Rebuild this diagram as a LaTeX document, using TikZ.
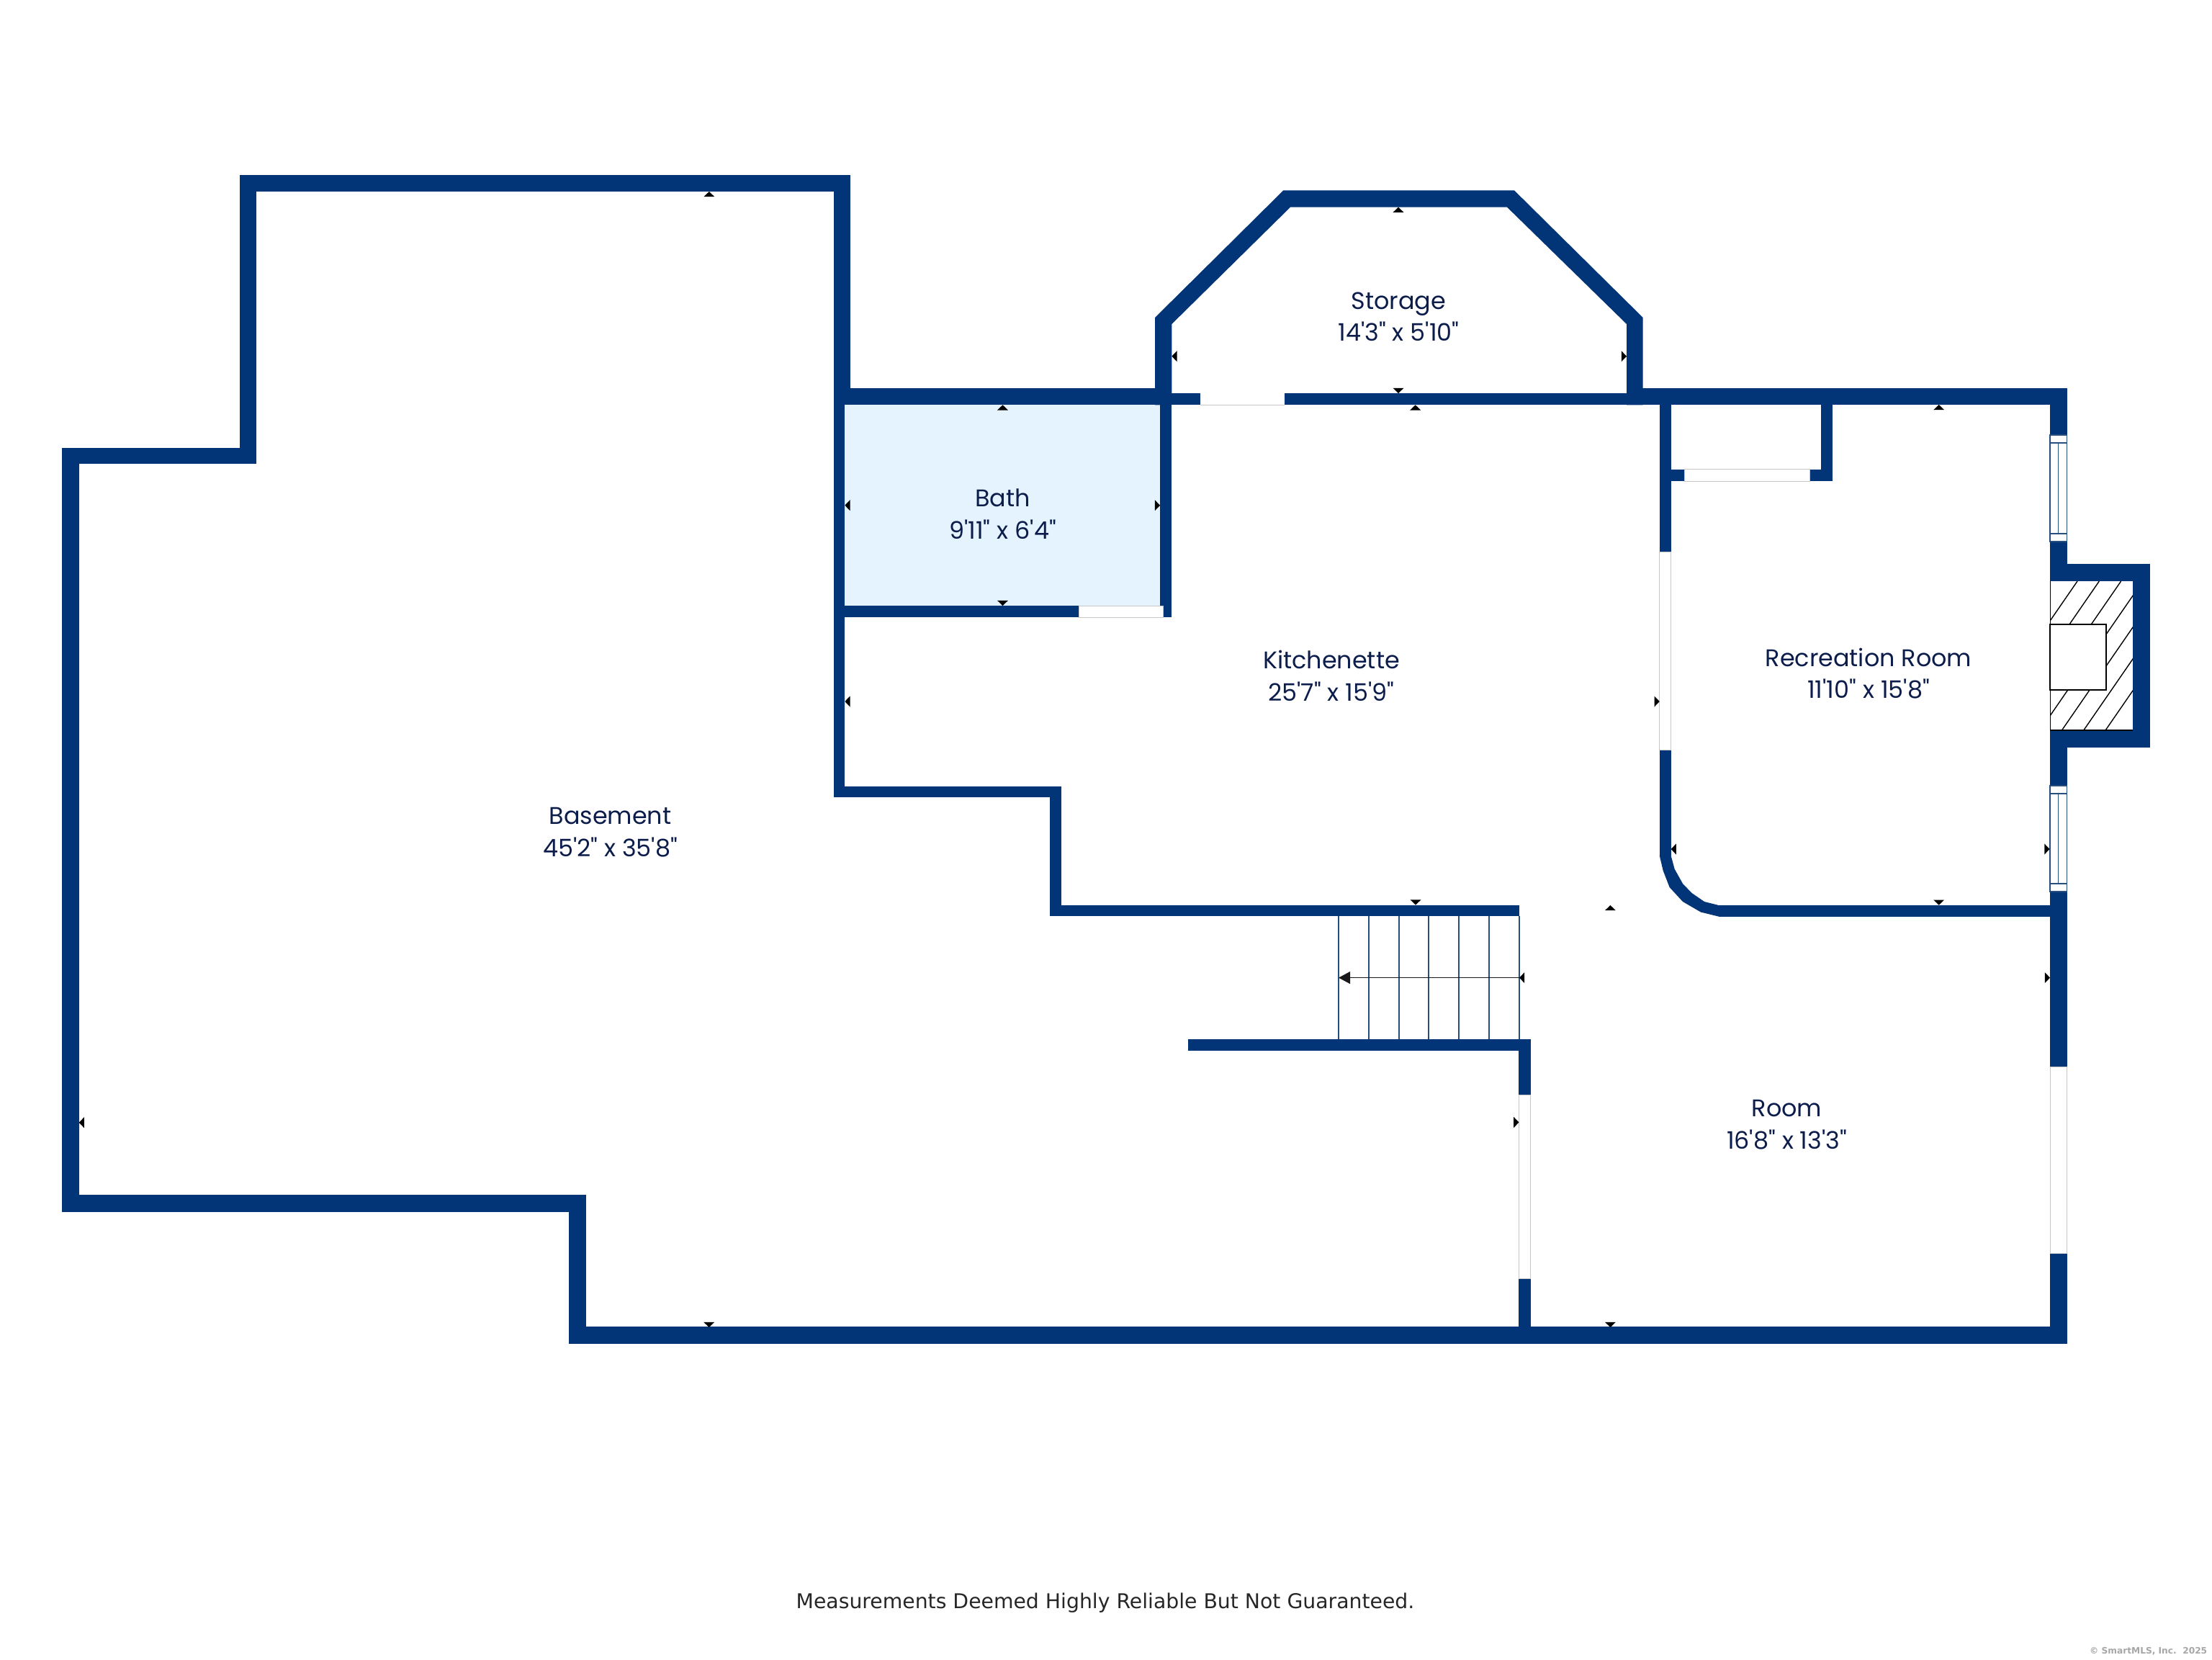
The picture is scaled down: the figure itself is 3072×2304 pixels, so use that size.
\documentclass[tikz,border=0pt]{standalone}
\usepackage{fontspec}
\usetikzlibrary{arrows.meta}
\newfontfamily\roomfont{Poppins}
\newfontfamily\notefont{DejaVu Sans}
\definecolor{wallblue}{HTML}{023577}
\definecolor{bathblue}{HTML}{E4F3FD}
\definecolor{labelnavy}{HTML}{0C1D4C}
\definecolor{stairblue}{HTML}{264F7E}
\tikzset{
    wall/.style={fill=wallblue},
    opening/.style={draw=black!22, line width=0.25pt, fill=white},
    casement/.style={draw=stairblue, line width=0.3pt, fill=white},
    tread/.style={draw=stairblue, line width=0.35pt},
    roomlabel/.style={font=\roomfont\fontsize{8.35}{11.1}\selectfont, text=labelnavy, align=center, inner sep=0},
}

\begin{document}
\begin{tikzpicture}[x=0.25pt, y=-0.25pt]
    \useasboundingbox (0,0) rectangle (3072,2304);

    \fill[bathblue] (1173.3,562) rectangle (1611,841);

    \foreach \xa/\ya/\xb/\yb in {
        333/242.7/1181/266, 333/242.7/356/644.3, 86/621.7/356/644.3, 86/621.7/109.7/1682.7,
        86/1659/813.8/1682.7, 790.2/1659/813.8/1866, 790.2/1842.3/2870.6/1866,
        1157.7/242.7/1181/562.3, 1157.5/562/1173.3/1107.3, 1157.5/1091.7/1474.3/1107.3,
        1458.3/1091.7/1474.3/1272.3, 1458.3/1256.5/2110/1272.3,
        1649.6/1443/2125.5/1459, 2109.4/1443/2125.5/1520.4, 2109.4/1775/2125.5/1866,
        1157.7/539/1627.3/562.3, 1611/562/1627.3/857.3, 1157.7/841/1498/857.3,
        1627/546/1666.6/562.3, 1784.4/546/2259/562.3, 2259/539/2870.6/562.3,
        2304.7/562/2320.6/766, 2304.7/1041/2320.6/1188, 2386.8/1257/2847/1272.5,
        2529/562/2544.5/668, 2513/651.6/2544.5/668, 2304.7/651.6/2339.5/668,
        2847/539/2870.6/604, 2847/752/2870.6/807, 2847/1014/2870.6/1091,
        2847/1238/2870.6/1481, 2847/1740.6/2870.6/1866,
        2847/783/2986/807, 2962/783/2986/1038, 2847/1014/2986/1038}
        \fill[wall] (\xa,\ya) rectangle (\xb,\yb);

    \fill[wall] (1604,562.3) -- (1604,441) -- (1782.4,264.3) -- (2102.9,264.3) -- (2281.7,441) -- (2281.7,562.3)
        -- (2259,562.3) -- (2259,450) -- (2093,287.7) -- (1792,287.7) -- (1627.3,450) -- (1627.3,562.3) -- cycle;
    \fill[wall] (2304.7,1188) -- (2309.7,1209) -- (2318.6,1232) -- (2337,1252) -- (2362,1266.5) -- (2386.8,1272.6)
        -- (2386.8,1257) -- (2367,1252) -- (2349.5,1240) -- (2337,1227) -- (2325.6,1206.6) -- (2320.6,1188) -- cycle;

    \draw[opening] (1498,841) rectangle (1615.7,857.3);
    \fill[white] (1666.6,546) rectangle (1784.4,562.3);
    \draw[black!22, line width=0.25pt] (1666.6,562.3) -- (1784.4,562.3);
    \draw[opening] (2339.5,651.6) rectangle (2513,668);
    \draw[opening] (2304.7,766) rectangle (2320.6,1041);
    \draw[opening] (2109.4,1520.4) rectangle (2125.5,1775);
    \draw[opening] (2847,1481) rectangle (2870.6,1740.6);

    \foreach \ya/\yb in {604/752, 1091/1238} {
        \draw[casement] (2847,\ya) rectangle (2870.6,\yb);
        \draw[casement] (2847,\ya+11) -- (2870.6,\ya+11);
        \draw[casement] (2847,\yb-11) -- (2870.6,\yb-11);
        \draw[casement] (2858.5,\ya+11) -- (2858.5,\yb-11);
    }

    \begin{scope}
        \clip (2848,807) rectangle (2962,1014);
        \foreach \k in {0,...,6}
            \draw[black, line width=0.35pt] (2885+30.3*\k,807) -- (2885+30.3*\k-150,807+1.45*150);
    \end{scope}
    \draw[black, line width=0.3pt] (2847.5,807) -- (2847.5,1014) -- (2962,1014);
    \draw[black, line width=0.45pt, fill=white] (2847,867) rectangle (2925,958);

    \foreach \x in {1859,1901,1943,1984,2026,2068,2110}
        \draw[tread] (\x,1272) -- (\x,1443);
    \coordinate (stairtop) at (2110,1357.6);
    \coordinate (stairfoot) at (1859,1357.6);
    \draw[-{Triangle[length=4pt,width=4.2pt]}, black!90, line width=0.4pt] (stairtop) -- (stairfoot);

    \foreach \x/\y in {984.8/266, 1392.5/562.3, 1942/287.7, 1965.7/562.3, 2692.7/562, 2236.4/1257}
        \fill[black] (\x-7.5,\y+7.2) -- (\x,\y) -- (\x+7.5,\y+7.2) -- cycle;
    \foreach \x/\y in {984.7/1843, 1392.5/841, 1942/546, 1966/1256.5, 2692.7/1256.7, 2236.4/1843}
        \fill[black] (\x-7.5,\y-7.2) -- (\x,\y) -- (\x+7.5,\y-7.2) -- cycle;
    \foreach \x/\y in {109.7/1558.7, 1173.3/701.7, 1173.3/974, 1627.3/494.7, 2320.6/1179, 2110/1357.6}
        \fill[black] (\x+7.2,\y-7.5) -- (\x,\y) -- (\x+7.2,\y+7.5) -- cycle;
    \foreach \x/\y in {2109.4/1558.4, 1611/701.7, 2304.7/974, 2259/494.7, 2846.5/1179, 2847/1357.6}
        \fill[black] (\x-7.2,\y-7.5) -- (\x,\y) -- (\x-7.2,\y+7.5) -- cycle;

    \node[roomlabel] (basement) at (847.5,1155.5) {Basement\\45'2" x 35'8"};
    \node[roomlabel] (storage) at (1942.5,439.5) {Storage\\14'3" x 5'10"};
    \node[roomlabel] (bath) at (1392.5,713.5) {Bath\\9'11" x 6'4"};
    \node[roomlabel] (kitchenette) at (1849,938.5) {Kitchenette\\25'7" x 15'9"};
    \node[roomlabel] (recroom) at (2595,935) {Recreation Room\\11'10" x 15'8"};
    \node[roomlabel] (room) at (2481.5,1561.5) {Room\\16'8" x 13'3"};

    \node[font=\notefont\fontsize{7.07}{8.5}\selectfont, text=black!85, inner sep=0] (disclaimer) at (1535,2226)
        {Measurements Deemed Highly Reliable But Not Guaranteed.};
    \node[font=\notefont\bfseries\fontsize{3.05}{4}\selectfont, text=black!35, anchor=east, inner sep=0] (credit) at (3066,2293)
        {© SmartMLS, Inc.\ \ 2025};
\end{tikzpicture}
\end{document}
